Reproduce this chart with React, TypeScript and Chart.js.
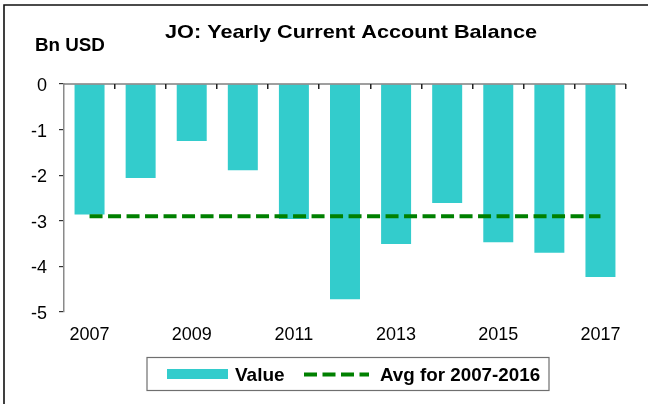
import React, { useEffect, useRef } from "react";
import { Chart, registerables } from "chart.js";

Chart.register(...registerables);

const years = ["2007", "2008", "2009", "2010", "2011", "2012", "2013", "2014", "2015", "2016", "2017"];
const values = [-2.86, -2.06, -1.25, -1.89, -2.96, -4.72, -3.51, -2.61, -3.47, -3.7, -4.23];
const avgValues = [-2.9, -2.9, -2.9, -2.9, -2.9, -2.9, -2.9, -2.9, -2.9, -2.9, -2.9];
const yMin = -5;
const yMax = 0;
const yStep = 1;
const titleText = "JO: Yearly Current Account Balance";
const unitText = "Bn USD";
const seriesLabels = ["Value", "Avg for 2007-2016"];

const FONT = '"Liberation Sans", Arial, Helvetica, sans-serif';
const BAR_COLOR = "#33CCCC";
const LINE_COLOR = "#008000";
const DASH = [13, 5.5];

const decorPlugin = {
  id: "decor",
  afterDatasetsDraw(chart: any) {
    const { ctx, chartArea, scales } = chart;
    const y0 = scales.y.getPixelForValue(0);
    ctx.save();
    // zero line
    ctx.strokeStyle = "#7f7f7f";
    ctx.lineWidth = 1.5;
    ctx.beginPath();
    ctx.moveTo(chartArea.left, y0);
    ctx.lineTo(chartArea.right, y0);
    ctx.stroke();
    // category boundary ticks pointing down
    const n = chart.data.labels.length;
    const w = (chartArea.right - chartArea.left) / n;
    ctx.strokeStyle = "#222";
    ctx.lineWidth = 1.5;
    for (let i = 1; i <= n; i++) {
      const x = Math.round(chartArea.left + i * w) - 0.25;
      ctx.beginPath();
      ctx.moveTo(x, y0);
      ctx.lineTo(x, y0 + 5);
      ctx.stroke();
    }
    ctx.restore();
  },
  afterDraw(chart: any) {
    const { ctx, width, height } = chart;
    ctx.save();
    // outer frame (top and left edges)
    ctx.strokeStyle = "#111";
    ctx.lineWidth = 1.6;
    ctx.beginPath();
    ctx.moveTo(4, height);
    ctx.lineTo(4, 5);
    ctx.lineTo(width, 5);
    ctx.stroke();

    ctx.fillStyle = "#000";
    // title (slightly wide)
    ctx.font = `bold 19px ${FONT}`;
    const tw = ctx.measureText(titleText).width;
    ctx.save();
    ctx.translate(351, 37.7);
    ctx.scale(372 / tw, 1);
    ctx.textAlign = "center";
    ctx.textBaseline = "alphabetic";
    ctx.fillText(titleText, 0, 0);
    ctx.restore();

    // unit label
    ctx.font = `bold 18.8px ${FONT}`;
    ctx.textAlign = "left";
    ctx.textBaseline = "alphabetic";
    ctx.fillText(unitText, 35, 50.7);

    // legend
    const ds = chart.data.datasets;
    ctx.strokeStyle = "#6f6f6f";
    ctx.lineWidth = 1.2;
    ctx.strokeRect(147, 357.5, 402, 33);

    ctx.fillStyle = ds[0].backgroundColor;
    ctx.fillRect(167, 369, 61, 10);

    ctx.fillStyle = "#000";
    ctx.font = `bold 19px ${FONT}`;
    ctx.fillText(ds[0].label, 235, 381);

    ctx.strokeStyle = ds[1].borderColor;
    ctx.lineWidth = 4;
    ctx.setLineDash(DASH);
    ctx.beginPath();
    ctx.moveTo(304, 374.5);
    ctx.lineTo(369, 374.5);
    ctx.stroke();
    ctx.setLineDash([]);

    ctx.font = `bold 18.8px ${FONT}`;
    ctx.fillText(ds[1].label, 380, 381);
    ctx.restore();
  },
};

export default function App() {
  const ref = useRef<HTMLCanvasElement | null>(null);

  useEffect(() => {
    document.body.style.margin = "0";
    if (!ref.current) return;
    const chart = new Chart(ref.current, {
      type: "bar",
      data: {
        labels: years,
        datasets: [
          {
            type: "bar",
            label: seriesLabels[0],
            data: values,
            backgroundColor: BAR_COLOR,
            borderWidth: 0,
            categoryPercentage: 1,
            barPercentage: 0.587,
            order: 2,
          },
          {
            type: "line",
            label: seriesLabels[1],
            data: avgValues,
            borderColor: LINE_COLOR,
            backgroundColor: LINE_COLOR,
            borderWidth: 4,
            borderDash: DASH,
            pointRadius: 0,
            fill: false,
            order: 1,
          } as any,
        ],
      },
      options: {
        responsive: true,
        maintainAspectRatio: false,
        animation: false,
        layout: { padding: { top: 84, right: 22, left: 0, bottom: 0 } },
        plugins: {
          legend: { display: false },
          title: { display: false },
          tooltip: { enabled: false },
        },
        scales: {
          x: {
            offset: true,
            grid: { display: false, drawTicks: false },
            border: { display: false },
            ticks: {
              autoSkip: false,
              maxRotation: 0,
              padding: 12,
              color: "#000",
              font: { family: FONT, size: 18 },
              callback: (_v: any, i: number) => (i % 2 === 0 ? years[i] : ""),
            },
            afterFit: (s: any) => {
              s.height = 92;
            },
          },
          y: {
            min: yMin,
            max: yMax,
            grid: { drawOnChartArea: false, drawTicks: true, tickLength: 5, color: "#333", lineWidth: 1.2 },
            border: { display: true, color: "#8a8a8a", width: 1.5 },
            ticks: {
              stepSize: yStep,
              padding: 12,
              labelOffset: 2,
              color: "#000",
              font: { family: FONT, size: 18 },
            },
            afterFit: (s: any) => {
              s.width = 64;
            },
          },
        },
      },
      plugins: [decorPlugin],
    });
    return () => chart.destroy();
  }, []);

  return (
    <div style={{ width: 648, height: 404, position: "relative" }}>
      <canvas ref={ref} />
    </div>
  );
}
